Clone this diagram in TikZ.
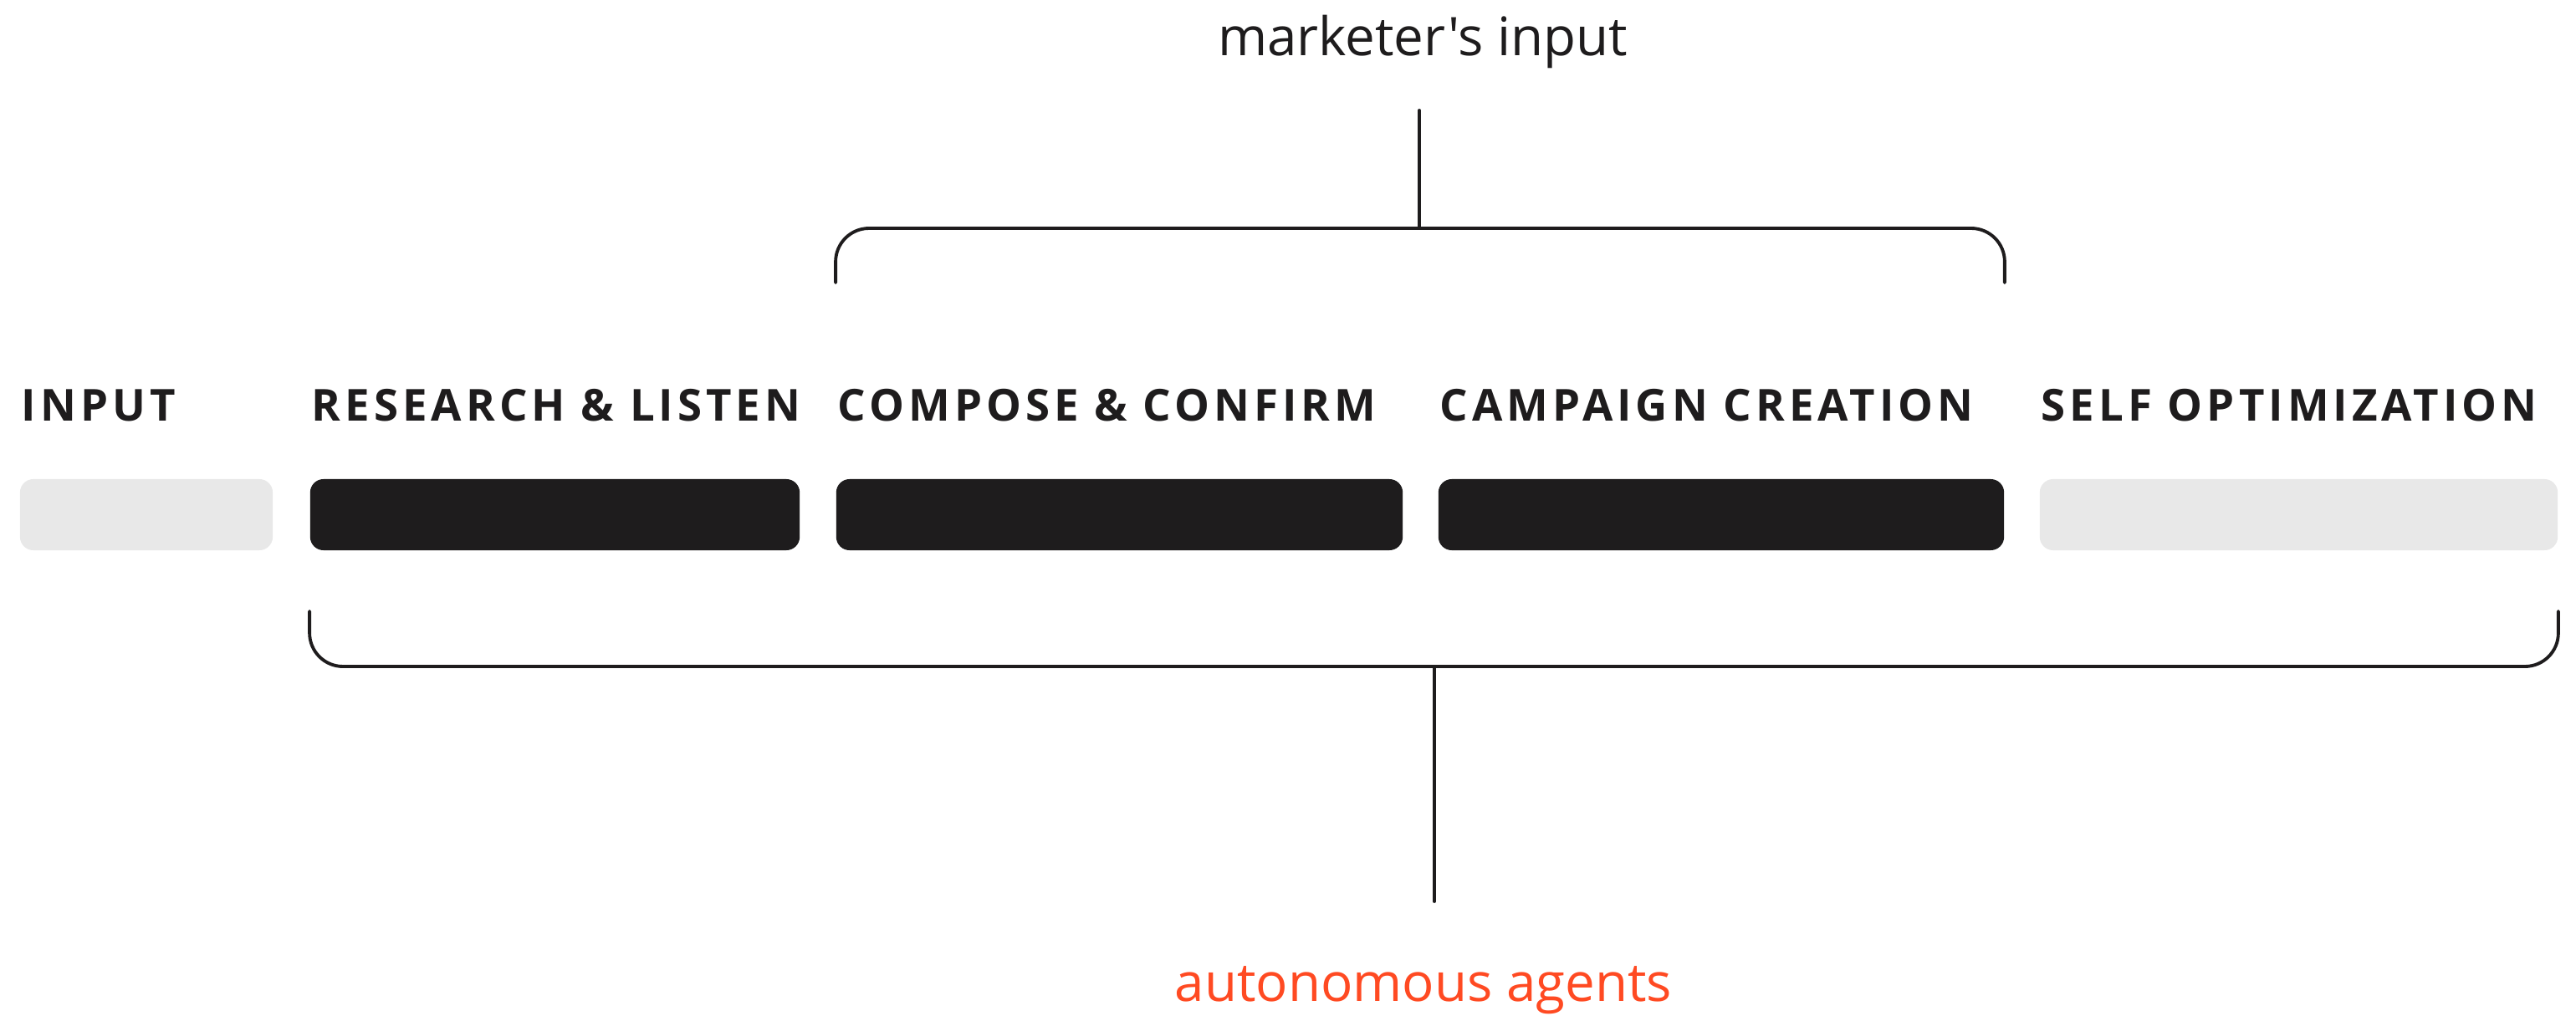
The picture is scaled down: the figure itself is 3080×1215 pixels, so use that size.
\documentclass[tikz,border=0pt]{standalone}
\usepackage{fontspec}
\setmainfont{Open Sans}[Ligatures=TeXOff]
\newfontfamily\stagefont{Open Sans}[LetterSpace=9.5]
\begin{document}
\definecolor{ink}{HTML}{1E1C1D}
\definecolor{idle}{HTML}{E8E8E8}
\definecolor{agent}{HTML}{FF4A22}
\begin{tikzpicture}[x=0.01cm,y=-0.01cm,
  stagebox/.style={rectangle, rounded corners=0.16cm, inner sep=0pt,
    minimum height=0.85cm},
  darkbox/.style={stagebox, fill=ink},
  lightbox/.style={stagebox, fill=idle},
  stagelabel/.style={anchor=base west, inner sep=0pt, text=ink,
    font=\stagefont\bfseries\fontsize{15}{18}\selectfont},
  note/.style={anchor=base, inner sep=0pt,
    font=\fontsize{18.1}{22}\selectfont},
  bracket/.style={draw=ink, line width=1.1pt, line cap=round,
    line join=round, rounded corners=0.4cm}]
  % canvas
  \fill[white] (0,0) rectangle (3080,1215);
  \useasboundingbox (0,0) rectangle (3080,1215);

  % stage bars
  \node[lightbox, minimum width=3.02cm] (s1) at (175,615.5) {};
  \node[darkbox,  minimum width=5.85cm] (s2) at (663.5,615.5) {};
  \node[darkbox,  minimum width=6.77cm] (s3) at (1338.5,615.5) {};
  \node[darkbox,  minimum width=6.76cm] (s4) at (2058,615.5) {};
  \node[lightbox, minimum width=6.19cm] (s5) at (2748.5,615.5) {};

  % stage titles
  \coordinate (base) at (0,503);
  \node[stagelabel] (t1) at ([xshift=0.02cm]s1.west |- base) {INPUT};
  \node[stagelabel] (t2) at ([xshift=0.02cm]s2.west |- base) {RESEARCH \& LISTEN};
  \node[stagelabel] (t3) at ([xshift=0.02cm]s3.west |- base) {COMPOSE \& CONFIRM};
  \node[stagelabel] (t4) at ([xshift=0.02cm]s4.west |- base) {CAMPAIGN CREATION};
  \node[stagelabel] (t5) at ([xshift=0.02cm]s5.west |- base) {SELF OPTIMIZATION};

  % captions
  \node[note, text=ink] (mk) at (1701,66) {marketer's input};
  \node[note, text=agent] (ag) at (1702,1197) {autonomous agents};

  % bracket levels
  \coordinate (tbar) at (0,273);
  \coordinate (tend) at (0,338);
  \coordinate (bend) at (0,731);
  \coordinate (bbar) at (0,797);
  \coordinate (mkstem) at (1697,132);
  \coordinate (tjoin) at (1697,273);
  \coordinate (bjoin) at (1715,797);
  \coordinate (agstem) at (1715,1078);

  % marketer bracket over the middle stages
  \draw[bracket] (s3.west |- tend) -- (s3.west |- tbar)
    -- (s4.east |- tbar) -- (s4.east |- tend);
  \draw[bracket] (mkstem) -- (tjoin);

  % agent bracket under the automated stages
  \draw[bracket] (s2.west |- bend) -- (s2.west |- bbar)
    -- (s5.east |- bbar) -- (s5.east |- bend);
  \draw[bracket] (bjoin) -- (agstem);
\end{tikzpicture}
\end{document}
